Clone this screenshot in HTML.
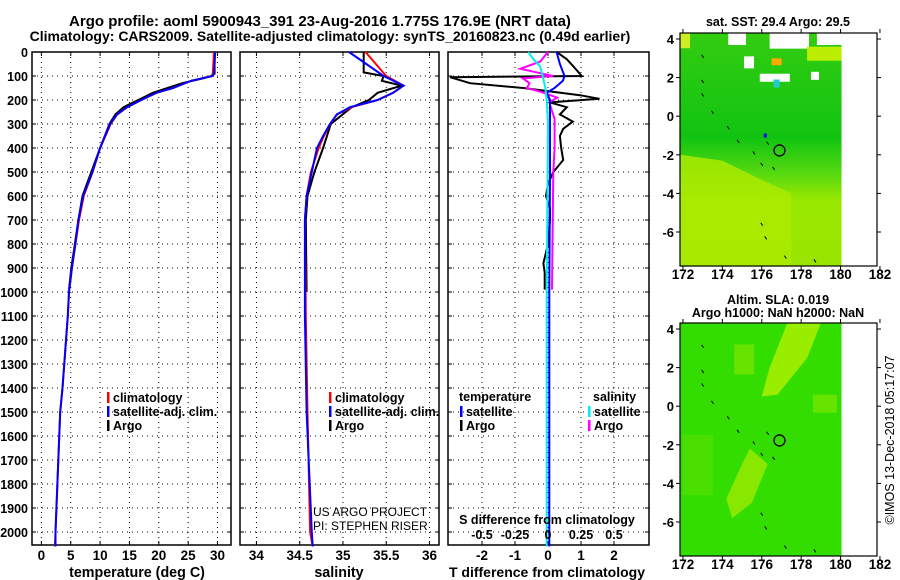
<!DOCTYPE html>
<html><head><meta charset="utf-8"><style>
body{margin:0;background:#fff;}
svg{display:block;font-family:"Liberation Sans",sans-serif;font-weight:bold;}
</style></head><body>
<svg id="c" width="900" height="580" viewBox="0 0 900 580" xmlns="http://www.w3.org/2000/svg"></svg>
<script>
// ---------- data ----------
const depthTicks=[0,100,200,300,400,500,600,700,800,900,1000,1100,1200,1300,1400,1500,1600,1700,1800,1900,2000];
const tempTicks=[0,5,10,15,20,25,30];
const salTicks=[34,34.5,35,35.5,36];
const tdiffTicks=[-2,-1,0,1,2];
const sdiffTicks=[-0.5,-0.25,0,0.25,0.5];
const latTicks=[4,2,0,-2,-4,-6];
const lonTicks=[172,174,176,178,180,182];
// temperature
const tClimDepth=[0,90,100,120,150,170,200,230,260,300,400,500,600,700,800,900,1000,1100,1400,1500,2000,2060];
const tClim=[29.4,29.2,29.0,25.5,22.4,19.6,17.0,14.6,12.9,11.8,10.0,8.7,7.2,6.4,5.8,5.2,4.7,4.5,3.6,3.2,2.4,2.3];
const tSat=[29.6,29.4,29.2,25.5,22.4,19.6,17.0,14.6,12.9,11.7,10.0,8.7,7.1,6.3,5.8,5.2,4.7,4.5,3.6,3.2,2.4,2.4];
const tArgoDepth=[0,90,100,110,130,150,170,200,230,260,300,400,500,600,700,800,900,990];
const tArgo=[29.5,29.5,29.0,27.5,24.0,21.5,19.0,16.5,14.0,12.6,11.6,10.0,8.5,7.0,6.3,5.7,5.1,4.7];
// salinity
const sDepth=[0,100,140,170,200,230,260,300,350,400,500,600,700,1100,1500,2000,2060];
const sClim=[35.26,35.50,35.70,35.58,35.40,35.10,34.93,34.85,34.78,34.72,34.63,34.58,34.56,34.57,34.59,34.62,34.65];
const sSat=[35.07,35.47,35.70,35.58,35.40,35.08,34.93,34.85,34.77,34.70,34.64,34.58,34.56,34.56,34.58,34.64,34.65];
const sArgoDepth=[0,85,100,120,140,170,200,230,300,400,500,600,700,1000];
const sArgo=[35.24,35.24,35.47,35.45,35.68,35.40,35.30,35.10,34.86,34.77,34.67,34.59,34.57,34.58];
// differences
const dTDepth=[0,30,60,100,105,130,150,180,195,210,230,260,290,320,350,400,450,500,550,600,650,700,800,880,920,990];
const dTArgo=[0.26,0.57,0.77,1.02,-2.97,-2.36,-0.75,0.97,1.56,0.06,0.57,0.36,0.75,0.46,0.36,0.40,0.46,0.16,0.0,-0.06,0.06,0.06,0.0,-0.14,-0.1,-0.1];
const dTSatDepth=[0,50,100,120,150,170,200,300,500,1000,2060];
const dTSat=[0.26,0.36,0.50,0.45,0.20,-0.04,0.06,0.06,0.06,0.04,0.04];
const dSArgoDepth=[0,40,70,100,110,130,150,165,190,210,280,400,500,990];
const dSArgo=[0,-0.06,-0.21,0.04,-0.19,-0.14,-0.16,-0.06,0.07,0.01,0.05,0.05,0.04,0.03];
const dSSatDepth=[0,30,60,100,150,200,300,1000,2060];
const dSSat=[-0.15,-0.11,-0.06,-0.04,-0.02,-0.01,0,-0.01,-0.01];
// float position
const floatLon=176.9, floatLat=-1.775;

// ---------- helpers ----------
const NS="http://www.w3.org/2000/svg";
const svg=document.getElementById('c');
function el(tag,attrs,parent){const e=document.createElementNS(NS,tag);for(const k in attrs)e.setAttribute(k,attrs[k]);(parent||svg).appendChild(e);return e;}
function txt(x,y,s,anchor,size,parent,weight){const t=el('text',{x:x,y:y,'text-anchor':anchor||'middle','font-size':size||13,fill:'#000'},parent);if(weight)t.setAttribute('font-weight',weight);t.textContent=s;return t;}
const Y0=52, PB=545;
const yD=d=>Y0+d*0.24;

function panel(name,x0,x1,xmin,xmax,ticks,fmt){
  const g=el('g',{});
  
  
  const sx=v=>x0+(v-xmin)/(xmax-xmin)*(x1-x0);
  depthTicks.forEach(d=>{const y=yD(d);el('line',{x1:x0,x2:x1,y1:y,y2:y,stroke:'#000','stroke-width':1,'stroke-dasharray':'1,4'},g);
    el('line',{x1:x0,x2:x0+4,y1:y,y2:y,stroke:'#000'},g);el('line',{x1:x1-4,x2:x1,y1:y,y2:y,stroke:'#000'},g);});
  ticks.forEach(v=>{const x=sx(v);el('line',{x1:x,x2:x,y1:Y0,y2:PB,stroke:'#000','stroke-width':1,'stroke-dasharray':'1,4'},g);
    el('line',{x1:x,x2:x,y1:PB-4,y2:PB,stroke:'#000'},g);el('line',{x1:x,x2:x,y1:Y0,y2:Y0+4,stroke:'#000'},g);
    if(fmt){const t=txt(x,560,fmt(v),'middle',13.5,g);}});
  el('rect',{x:x0,y:Y0,width:x1-x0,height:PB-Y0,fill:'none',stroke:'#000','stroke-width':1.5},g);
  return {g,sx};
}
function line(p,xs,ds,color,name,w){
  const pts=xs.map((v,i)=>p.sx(v).toFixed(1)+','+yD(ds[i]).toFixed(1)).join(' ');
  const l=el('polyline',{points:pts,fill:'none',stroke:color,'stroke-width':w||2},p.g);
  
  
}

// titles
let t=txt(320,26,'Argo profile: aoml 5900943_391 23-Aug-2016 1.775S 176.9E (NRT data)','middle',15);


t=txt(330,41,'Climatology: CARS2009. Satellite-adjusted climatology: synTS_20160823.nc (0.49d earlier)','middle',14);



// depth labels
depthTicks.forEach(d=>{const t=txt(28,yD(d)+5,String(d),'end',12.5);});

// panel 1 temperature
const p1=panel('temperature-panel',32,231,-1.6,32.3,tempTicks,v=>String(v));
line(p1,tArgo,tArgoDepth,'#000','argo-temperature-line');
line(p1,tClim,tClimDepth,'#f00','climatology-temperature-line');
line(p1,tSat,tClimDepth,'#00f','satellite-temperature-line');
t=txt(137,577,'temperature (deg C)','middle',14.3);

// panel 2 salinity
const p2=panel('salinity-panel',240,439,33.81,36.11,salTicks,v=>String(v));
line(p2,sArgo,sArgoDepth,'#000','argo-salinity-line');
line(p2,sClim,sDepth,'#f00','climatology-salinity-line');
line(p2,sSat,sDepth,'#00f','satellite-salinity-line');
t=txt(339,577,'salinity','middle',14.3);
t=txt(313,516,'US ARGO PROJECT','start',12,null,'normal');
t=txt(313,530,'PI: STEPHEN RISER','start',12,null,'normal');

// legends for panels 1 & 2
function legendEntry(g,x,y,color,label){
  el('rect',{x:x,y:y-10,width:2.5,height:11,fill:color},g);
  const t=txt(x+6,y,label,'start',12.5,g);
  
  
}
[[p1,107],[p2,329]].forEach(([p,x])=>{
  legendEntry(p.g,x,402,'#f00','climatology');
  legendEntry(p.g,x,416,'#00f','satellite-adj. clim.');
  legendEntry(p.g,x,430,'#000','Argo');
});

// panel 3 differences
const p3=panel('difference-panel',448,649,-3.03,3.06,tdiffTicks,v=>String(v));
const sdS=v=>548+v*132;
const p3s={g:p3.g,sx:sdS};
line(p3,dTArgo,dTDepth,'#000','argo-temperature-diff-line');
line(p3s,dSArgo,dSArgoDepth,'#f0f','argo-salinity-diff-line');
line(p3,dTSat,dTSatDepth,'#00f','satellite-temperature-diff-line');
line(p3s,dSSat,dSSatDepth,'#0ee','satellite-salinity-diff-line');
sdiffTicks.forEach(v=>{const t=txt(sdS(v),539,String(v),'middle',12.5,p3.g);});
t=txt(547,524,'S difference from climatology','middle',12.5,p3.g);
t=txt(547,577,'T difference from climatology','middle',14);
t=txt(459,401,'temperature','start',12.5,p3.g);
t=txt(593,401,'salinity','start',12.5,p3.g);
legendEntry(p3.g,460,416,'#00f','satellite');
legendEntry(p3.g,460,430,'#000','Argo');
legendEntry(p3.g,588,416,'#0ee','satellite');
legendEntry(p3.g,588,430,'#f0f','Argo');

// ---------- maps ----------
function map(name,top,title1,title2,kind){
  const g=el('g',{});
  
  
  const L=680,R=877,B=top+233;
  const lx=v=>L+(v-171.85)*19.7;
  const ly=v=>top+6+(4-v)*19.3;
  const dx0=L,dx1=lx(180.05);
  if(kind==='sst'){
    const gr=el('linearGradient',{id:'sstg',x1:0,y1:0,x2:0,y2:1},g);
    [[0,'#33cc11'],[0.45,'#11c411'],[0.6,'#55d811'],[0.72,'#99e800'],[1,'#99e400']].forEach(s=>el('stop',{offset:s[0],'stop-color':s[1]},gr));
    el('rect',{x:dx0,y:top,width:dx1-dx0,height:B-top,fill:'url(#sstg)'},g);
    el('polygon',{points:`${dx0},${ly(-2)} ${lx(174)},${ly(-2.3)} ${lx(176)},${ly(-3.3)} ${lx(177.5)},${ly(-4)} ${lx(177.5)},${ly(-7.8)} ${dx0},${ly(-7.8)}`,fill:'#aaea00',opacity:0.85},g);
    el('rect',{x:dx0,y:ly(4.3),width:10,height:15,fill:'#ccee22'},g);
    el('rect',{x:lx(174.3),y:top,width:lx(175.2)-lx(174.3),height:12,fill:'#fff'},g);
    el('rect',{x:lx(176.4),y:top,width:lx(178.4)-lx(176.4),height:ly(3.5)-top,fill:'#fff'},g);
    el('rect',{x:lx(178.8),y:top,width:dx1-lx(178.8),height:12,fill:'#fff'},g);
    el('rect',{x:lx(175.1),y:ly(3.1),width:10,height:12,fill:'#fff'},g);
    el('rect',{x:lx(175.9),y:ly(2.2),width:30,height:8,fill:'#fff'},g);
    el('rect',{x:lx(178.5),y:ly(2.3),width:8,height:8,fill:'#fff'},g);
    el('rect',{x:lx(178.3),y:ly(3.6),width:dx1-lx(178.3),height:14,fill:'#bbee00'},g);
    el('rect',{x:lx(176.6),y:ly(1.9),width:6,height:8,fill:'#22cccc'},g);
    el('rect',{x:lx(176.5),y:ly(3.0),width:10,height:7,fill:'#ffaa00'},g);
    el('rect',{x:lx(176.1),y:ly(-0.9),width:3,height:4,fill:'#0000ee'},g);
  } else {
    el('rect',{x:dx0,y:top,width:dx1-dx0,height:B-top,fill:'#33dd00'},g);
    el('polygon',{points:`${lx(177.3)},${top} ${lx(179)},${top} ${lx(178.3)},${ly(2.5)} ${lx(176.8)},${ly(0.6)} ${lx(176)},${ly(0.5)} ${lx(176.4)},${ly(2)}`,fill:'#99ee00'},g);
    el('polygon',{points:`${lx(175.4)},${ly(-2.2)} ${lx(176.3)},${ly(-3)} ${lx(175.5)},${ly(-5)} ${lx(174.5)},${ly(-5.8)} ${lx(174.2)},${ly(-4.8)} ${lx(175)},${ly(-3)}`,fill:'#88e800'},g);
    el('rect',{x:lx(174.6),y:ly(3.2),width:20,height:30,fill:'#66e400'},g);
    el('rect',{x:lx(178.6),y:ly(0.6),width:24,height:18,fill:'#66e400'},g);
    el('rect',{x:lx(172),y:ly(-1.5),width:30,height:60,fill:'#55e000',opacity:0.7},g);
  }
  el('rect',{x:L,y:top,width:R-L,height:B-top,fill:'none',stroke:'#000','stroke-width':1.2},g);
  latTicks.forEach(v=>{const y=ly(v);el('line',{x1:L-4,x2:L,y1:y,y2:y,stroke:'#000'},g);el('line',{x1:R,x2:R+4,y1:y,y2:y,stroke:'#000'},g);
    const t=txt(L-6,y+5,String(v),'end',13,g);});
  lonTicks.forEach(v=>{const x=lx(v);el('line',{x1:x,x2:x,y1:B,y2:B+4,stroke:'#000'},g);el('line',{x1:x,x2:x,y1:top-4,y2:top,stroke:'#000'},g);
    const t=txt(x,B+13,String(v),'middle',13.5,g);});
  // islands
  [[173,3.1],[173,1.8],[173,1.1],[173.5,0.2],[174.3,-0.6],[174.8,-1.3],[175.6,-1.9],[176.3,-1.4],[176,-2.5],[176.6,-2.7],[176,-5.6],[176.2,-6.3],[177.2,-7.3],[178.7,-7.5]].forEach(p=>{
    el('line',{x1:lx(p[0])-1,y1:ly(p[1])-1.5,x2:lx(p[0])+1,y2:ly(p[1])+1.5,stroke:'#000','stroke-width':1},g);});
  const c=el('circle',{cx:lx(floatLon),cy:ly(floatLat),r:5.5,fill:'none',stroke:'#000','stroke-width':1.3},g);
  
  
  let t1=txt(778,top-(title2?19:7),title1,'middle',12.5,g);
  if(title2){let t2=txt(778,top-6,title2,'middle',12.5,g);}
}
map('sst-map',33,'sat. SST: 29.4 Argo: 29.5',null,'sst');
map('sla-map',323,'Altim. SLA: 0.019','Argo h1000: NaN h2000: NaN','sla');
t=txt(0,0,'©IMOS 13-Dec-2018 05:17:07','middle',12.5,null,'normal');
t.setAttribute('transform','translate(894,440) rotate(-90)');


</script>
</body></html>
